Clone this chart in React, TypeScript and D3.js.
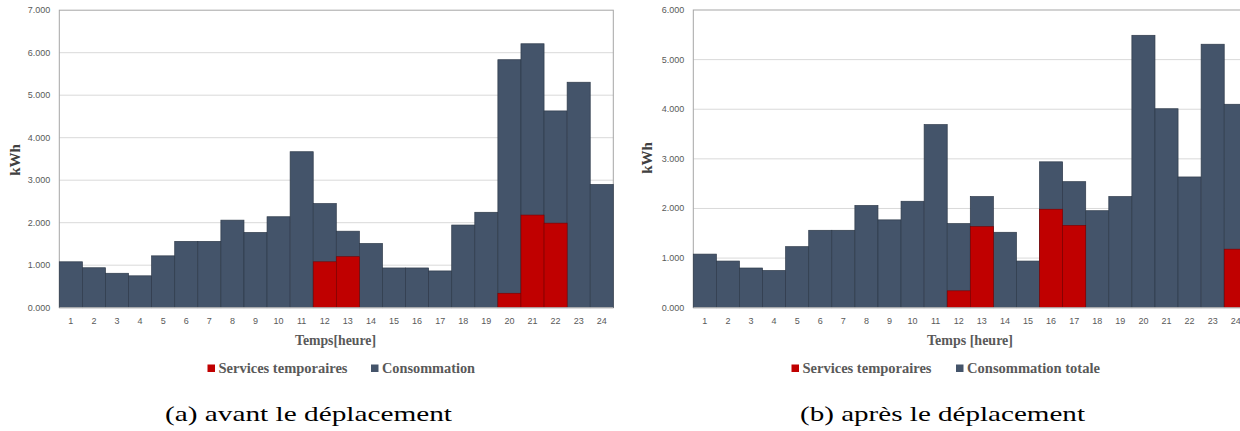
import React from "react";
import * as d3 from "d3";

const hours = d3.range(1, 25).map(String);
const yTicksA = [0, 1000, 2000, 3000, 4000, 5000, 6000, 7000];
const yTicksB = [0, 1000, 2000, 3000, 4000, 5000, 6000];

// Panel (a) avant le déplacement, kWh
const consoA = [1080, 940, 810, 750, 1220, 1560, 1560, 2060, 1770, 2140, 3670, 2450, 1800, 1510, 935, 935, 865, 1945, 2245, 5835, 6210, 4630, 5305, 2900];
const tempA = [0, 0, 0, 0, 0, 0, 0, 0, 0, 0, 0, 1080, 1200, 0, 0, 0, 0, 0, 0, 340, 2180, 1990, 0, 0];

// Panel (b) après le déplacement, kWh
const consoB = [1080, 940, 800, 750, 1230, 1560, 1560, 2060, 1770, 2145, 3690, 1695, 2240, 1520, 940, 2940, 2540, 1955, 2240, 5490, 4010, 2635, 5310, 4100];
const tempB = [0, 0, 0, 0, 0, 0, 0, 0, 0, 0, 0, 340, 1635, 0, 0, 1985, 1660, 0, 0, 0, 0, 0, 0, 1180];

const fmt = (v: number) => (v / 1000).toFixed(3);

const DARK = "#44546a";
const RED = "#c00000";
const SERIF = "Liberation Serif, Times New Roman, serif";

type PanelProps = {
  left: number;
  right: number;
  top: number;
  bottom: number;
  yMax: number;
  ticks: number[];
  conso: number[];
  temp: number[];
  xTitle: string;
  xTitleX: number;
  xTitleW: number;
  legendX: number;
  legend1W: number;
  legend2X: number;
  legend2: string;
  legend2W: number;
  caption: string;
  captionX: number;
  captionW: number;
  ylabelX: number;
  ylabelY: number;
};

function Panel(p: PanelProps) {
  const x = d3.scaleBand().domain(hours).range([p.left, p.right]).padding(0);
  const y = d3.scaleLinear().domain([0, p.yMax]).range([p.bottom, p.top]);
  return (
    <g>
      {p.ticks.map((t) => (
        <g key={t}>
          {t > 0 && t < p.yMax && (
            <line x1={p.left} x2={p.right} y1={y(t)} y2={y(t)} stroke="#d9d9d9" strokeWidth={1} />
          )}
          <text x={p.left - 9} y={y(t) + 3} textAnchor="end" fontSize={9} fill="#595959" fontFamily="Liberation Sans, Arial, sans-serif">
            {fmt(t)}
          </text>
        </g>
      ))}
      <rect x={p.left} y={p.top} width={p.right - p.left} height={p.bottom - p.top} fill="none" stroke="#a6a6a6" strokeWidth={1} />
      {hours.map((h, i) => (
        <rect key={"c" + h} x={x(h)} y={y(p.conso[i])} width={x.bandwidth()} height={p.bottom - y(p.conso[i])} fill={DARK} stroke="#2e3a4a" strokeWidth={0.7} />
      ))}
      {hours.map((h, i) =>
        p.temp[i] > 0 ? (
          <rect key={"t" + h} x={x(h)} y={y(p.temp[i])} width={x.bandwidth()} height={p.bottom - y(p.temp[i])} fill={RED} stroke="#7a0000" strokeWidth={0.6} />
        ) : null
      )}
      <line x1={p.left} x2={p.right} y1={p.bottom} y2={p.bottom} stroke="#bfbfbf" strokeWidth={1} />
      {hours.map((h) => (
        <text key={"x" + h} x={(x(h) as number) + x.bandwidth() / 2} y={p.bottom + 16} textAnchor="middle" fontSize={9} fill="#595959" fontFamily="Liberation Sans, Arial, sans-serif">
          {h}
        </text>
      ))}
      <text x={p.xTitleX} y={345} fontSize={15.5} fontWeight="bold" fill="#595959" fontFamily={SERIF} textLength={p.xTitleW} lengthAdjust="spacingAndGlyphs">
        {p.xTitle}
      </text>
      <text transform={`translate(${p.ylabelX},${p.ylabelY}) rotate(-90)`} textAnchor="middle" fontSize={15} fontWeight="bold" fill="#404040" fontFamily={SERIF}>
        kWh
      </text>
      <g fontSize={15.5} fontWeight="bold" fill="#595959" fontFamily={SERIF}>
        <rect x={p.legendX} y={364.5} width={7.5} height={7.5} fill={RED} />
        <text x={p.legendX + 11} y={372.5} textLength={p.legend1W} lengthAdjust="spacingAndGlyphs">Services temporaires</text>
        <rect x={p.legend2X} y={364.5} width={7.5} height={7.5} fill={DARK} />
        <text x={p.legend2X + 11} y={372.5} textLength={p.legend2W} lengthAdjust="spacingAndGlyphs">{p.legend2}</text>
      </g>
      <text x={p.captionX} y={421} fontSize={21.5} fill="#000" fontFamily={SERIF} textLength={p.captionW} lengthAdjust="spacingAndGlyphs">
        {p.caption}
      </text>
    </g>
  );
}

export default function App() {
  return (
    <svg width={1240} height={431} style={{ position: "absolute", left: 0, top: 0, background: "#fff" }}>
      <rect width={1240} height={431} fill="#fff" />
      <Panel left={59.3} right={613.3} top={10.2} bottom={307.7} yMax={7000} ticks={yTicksA} conso={consoA} temp={tempA}
        xTitle="Temps[heure]" xTitleX={295} xTitleW={81}
        legendX={207.5} legend1W={129} legend2X={371} legend2="Consommation" legend2W={93}
        caption="(a) avant le déplacement" captionX={165} captionW={287}
        ylabelX={20} ylabelY={160} />
      <Panel left={693.3} right={1247.3} top={10} bottom={307.7} yMax={6000} ticks={yTicksB} conso={consoB} temp={tempB}
        xTitle="Temps [heure]" xTitleX={927} xTitleW={86}
        legendX={791.5} legend1W={129} legend2X={956} legend2="Consommation totale" legend2W={133}
        caption="(b) après le déplacement" captionX={800} captionW={285}
        ylabelX={652} ylabelY={158} />
    </svg>
  );
}
